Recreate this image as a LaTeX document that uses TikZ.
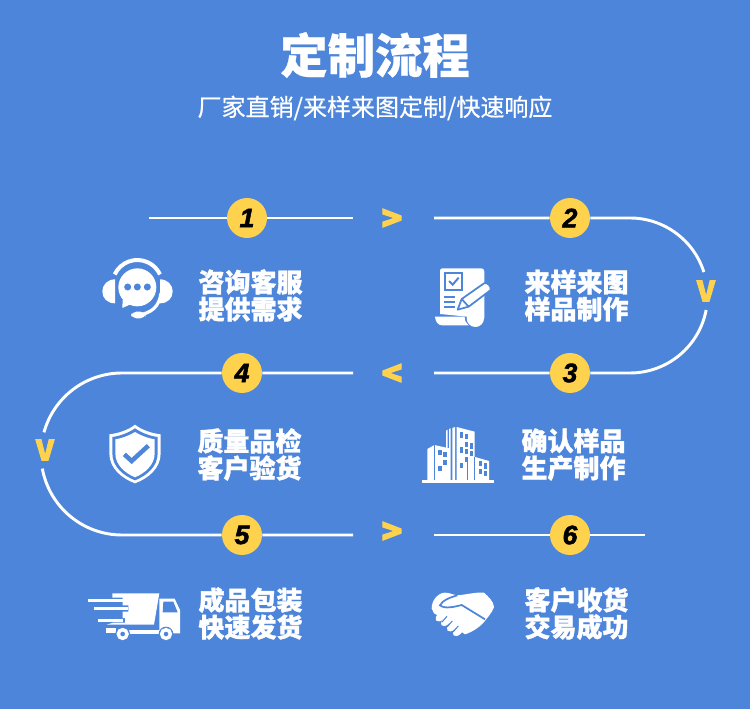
\documentclass[tikz,border=0pt]{standalone}
\usepackage{fontspec}
\setmainfont{Noto Sans CJK SC}
\newfontfamily\numfont[BoldItalicFeatures={FakeBold=2}]{Liberation Sans}
\newfontfamily\headfont[BoldFeatures={FakeBold=0.6}]{Noto Sans CJK SC}
\newfontfamily\stepfont[BoldFeatures={FakeBold=1.2}]{Noto Sans CJK SC}
\newfontfamily\markfont[BoldFeatures={FakeBold=3.5}]{Noto Sans CJK SC}
\newfontfamily\subfont[FakeBold=0.5]{Noto Sans CJK SC}
\usetikzlibrary{positioning, calc}
\definecolor{bgblue}{HTML}{4D85DA}
\definecolor{mkyellow}{HTML}{FFD24D}

\begin{document}
\begin{tikzpicture}[
  x=0.75pt, y=-0.75pt,
  flow/.style={draw=white, line width=2.2pt},
  numdot/.style={circle, fill=mkyellow, minimum size=30pt, inner sep=0pt,
    font=\numfont\fontsize{20}{20}\selectfont\bfseries\itshape, text=black},
  marker/.style={font=\markfont\fontsize{21}{21}\selectfont\bfseries, text=mkyellow, inner sep=0pt},
  chevron/.style={marker, font=\markfont\fontsize{25.5}{25.5}\selectfont\bfseries},
  steptext/.style={font=\stepfont\fontsize{19.5}{20.3}\selectfont\bfseries, text=white,
    align=center, inner sep=0pt},
  iconline/.style={draw=bgblue, line width=1.3pt},
]

% Background
\fill[bgblue] (0,0) rectangle (750,709);

% Title
\node[font=\headfont\fontsize{35.5}{36}\selectfont\bfseries, text=white, inner sep=0pt] (title) at (375,55)
  {定制流程};
\node[font=\subfont\fontsize{18}{18}\selectfont, text=white, inner sep=0pt] (subtitle) at (375,108)
  {厂家直销/来样来图定制/快速响应};

% Number dots
\node[numdot] (n1) at (247,218) {1};
\node[numdot] (n2) at (570,218) {2};
\node[numdot] (n3) at (570,373) {3};
\node[numdot] (n4) at (242,373) {4};
\node[numdot] (n5) at (242,535) {5};
\node[numdot] (n6) at (570,535) {6};

% Markers between the dots
\node[chevron] (m12) at (392,220) {>};
\node[marker] (m23) at (706,291) {V};
\node[chevron] (m34) at (392,375) {<};
\node[marker] (m45) at (45,450) {V};
\node[chevron] (m56) at (392,533) {>};

% Free ends of the lines
\coordinate (a1) at (149,218);
\coordinate (b1) at (353,218);
\coordinate (a2) at (434,218);
\coordinate (b2) at (630,218);
\coordinate (a3) at (630,373);
\coordinate (b3) at (434,373);
\coordinate (a4) at (353,373);
\coordinate (b4) at (122,373);
\coordinate (a5) at (122,535);
\coordinate (b5) at (353,535);
\coordinate (a6) at (434,535);
\coordinate (b6) at (645,535);

% Lines
\draw[flow] (a1) -- (n1) -- (b1);
\draw[flow] (a2) -- (n2) -- (b2) arc[start angle=-90, end angle=-17.6, radius=77.5];
\draw[flow] (b3) -- (n3) -- (a3) arc[start angle=90, end angle=10.8, radius=77.5];
\draw[flow] (a4) -- (n4) -- (b4) arc[start angle=-90, end angle=-164.5, radius=81];
\draw[flow] (b5) -- (n5) -- (a5) arc[start angle=90, end angle=169.6, radius=81];
\draw[flow] (a6) -- (n6) -- (b6);

% Step texts
\node[steptext] (t1) at (250.5,295.5) {咨询客服\\提供需求};
\node[steptext] (t2) at (576.5,295.5) {来样来图\\样品制作};
\node[steptext] (t3) at (573.5,454.5) {确认样品\\生产制作};
\node[steptext] (t4) at (249.5,454.5) {质量品检\\客户验货};
\node[steptext] (t5) at (250.5,613.5) {成品包装\\快速发货};
\node[steptext] (t6) at (576.5,613.5) {客户收货\\交易成功};

% Headset icon
\begin{scope}[shift={(80,240)}, x=0.25pt, y=-0.25pt]
  \draw[white, line width=3pt] (172,135) ++(-155:75) arc[start angle=-155, end angle=-25, radius=75];
  \draw[white, line width=2.4pt, line cap=round] (243,160) .. controls (238,198) and (215,222) .. (170,225);
  \fill[white, rounded corners=4pt] (153,215) rectangle (197,235);
  \fill[white] (105,118) -- (105,190) .. controls (82,190) and (67,175) .. (67,154)
    .. controls (67,135) and (82,118) .. (105,118) -- cycle;
  \fill[white] (240,118) -- (240,190) .. controls (263,190) and (278,175) .. (278,154)
    .. controls (278,135) and (263,118) .. (240,118) -- cycle;
  \fill[white] (172,142) circle[radius=57];
  \fill[white] (128,180) -- (127,204) -- (158,190) -- cycle;
  \foreach \dotx in {143,172,202}
    \fill[bgblue] (\dotx,141) circle[radius=10.5];
\end{scope}

% Document icon
\begin{scope}[shift={(420,250)}, x=0.25pt, y=-0.25pt]
  \fill[white] (60,62) arc[start angle=180, end angle=270, radius=7] -- (184,55)
    arc[start angle=-90, end angle=0, radius=9] -- (193,205) -- (140,200) -- (60,192) -- cycle;
  \fill[white] (166,205) circle[radius=26];
  \fill[white] (45,200) -- (134,200) .. controls (134,212) and (138,220) .. (146,226)
    -- (66,226) .. controls (54,226) and (46,214) .. (45,200) -- cycle;
  \draw[iconline] (75,70) rectangle (127,120);
  \draw[iconline, line width=1.5pt] (87,93) -- (98,104) -- (116,83);
  \draw[iconline] (72,140) -- (104,140);
  \draw[iconline] (72,156) -- (104,156);
  \draw[iconline] (72,172) -- (104,172);
  \draw[iconline, fill=white, line join=round] (113,179) -- (125,147) -- (192,100)
    .. controls (202,95) and (215,110) .. (212,120) -- (146,170) -- cycle;
  \draw[iconline] (125,147) -- (146,170);
\end{scope}

% Shield icon
\begin{scope}[shift={(90,415)}, x=0.25pt, y=-0.25pt]
  \fill[white] (135,29) .. controls (155,45) and (185,55) .. (212,58)
    -- (212,115) .. controls (212,160) and (175,190) .. (135,205)
    .. controls (95,190) and (58,160) .. (58,115) -- (58,58)
    .. controls (85,55) and (115,45) .. (135,29) -- cycle;
  \fill[bgblue] (135,40) .. controls (155,54) and (180,63) .. (203,66)
    -- (203,115) .. controls (203,155) and (170,182) .. (135,196)
    .. controls (100,182) and (67,155) .. (67,115) -- (67,66)
    .. controls (90,63) and (115,54) .. (135,40) -- cycle;
  \fill[white] (135,51) .. controls (155,63) and (175,70) .. (194,73)
    -- (194,115) .. controls (194,150) and (165,174) .. (135,187)
    .. controls (105,174) and (76,150) .. (76,115) -- (76,73)
    .. controls (95,70) and (115,63) .. (135,51) -- cycle;
  \draw[bgblue, line width=3.4pt] (103,118) -- (125,138) -- (175,92);
\end{scope}

% Building icon
\begin{scope}[shift={(410,415)}, x=0.25pt, y=-0.25pt]
  \fill[white] (36,195) rectangle (252,204);
  \fill[white] (52,102) -- (73,90) -- (118,100) -- (118,195) -- (52,195) -- cycle;
  \fill[white] (108,47) -- (113,44) -- (113,195) -- (108,195) -- cycle;
  \fill[white] (117,42) -- (122,40) -- (122,195) -- (117,195) -- cycle;
  \fill[white] (127,39) -- (135,36) -- (135,195) -- (127,195) -- cycle;
  \fill[white] (140,36) -- (194,50) -- (194,195) -- (140,195) -- cycle;
  \fill[white] (172,142) -- (192,125) -- (237,138) -- (237,195) -- (172,195) -- cycle;
  \draw[iconline, line width=0.7pt] (172,142) -- (172,195) (192,126) -- (192,195) (72,91) -- (72,195);
  \foreach \winx/\winy in {85/105,100/110,100/135,85/152,150/52,165/57,165/80,180/85,150/97,165/102,180/107,165/125,150/143,206/138,221/145,206/162,221/167}
    \fill[bgblue] (\winx,\winy) rectangle ++(10,16);
\end{scope}

% Truck icon
\begin{scope}[shift={(80,580)}, x=0.25pt, y=-0.25pt]
  \fill[white] (97,40) -- (238,40) -- (222,134) -- (80,134) -- (100,128) -- (135,128)
    -- (135,114) -- (128,114) -- (128,95) -- (145,95) -- (145,76) -- (128,76)
    -- (128,53) -- (97,53) -- cycle;
  \fill[white] (25,58) rectangle (128,66);
  \fill[white] (42,81) rectangle (143,89);
  \fill[white] (55,118) rectangle (128,126);
  \fill[white] (78,144) rectangle (108,160);
  \fill[white] (146,150) rectangle (240,162);
  \fill[white] (238,56) -- (284,56) -- (300,90) -- (300,160) -- (278,160) -- (238,160) -- cycle;
  \fill[bgblue] (250,65) -- (280,65) -- (293,97) -- (248,97) -- cycle;
  \fill[bgblue] (128,162) circle[radius=22];
  \draw[white, line width=2.6pt] (128,162) circle[radius=13];
  \fill[bgblue] (258,162) circle[radius=22];
  \draw[white, line width=2.6pt] (258,162) circle[radius=13];
\end{scope}

% Handshake icon
\begin{scope}[shift={(420,580)}, x=0.25pt, y=-0.25pt]
  \fill[white] (35,85) .. controls (35,60) and (55,38) .. (75,38)
    .. controls (90,38) and (100,45) .. (112,46) .. controls (140,44) and (165,36) .. (192,38)
    .. controls (205,50) and (222,65) .. (222,82) .. controls (215,100) and (200,115) .. (193,125)
    .. controls (180,140) and (160,155) .. (135,163) -- (60,110) -- (42,100) -- cycle;
  \foreach \fngx/\fngy in {62/110,78/124,96/140,114/154}
    \fill[white, rotate around={40:(\fngx,\fngy)}] (\fngx,\fngy) ellipse[x radius=18, y radius=11];
  \foreach \fngx/\fngy in {72/118,88/132,106/147}
    \draw[iconline, line width=0.8pt] (\fngx,\fngy) ++(9,-9) -- ++(-16,18);
  \draw[iconline] (112,46) .. controls (90,52) and (66,62) .. (60,76)
    .. controls (75,88) and (105,80) .. (125,75) -- (195,118);
\end{scope}

\end{tikzpicture}
\end{document}
